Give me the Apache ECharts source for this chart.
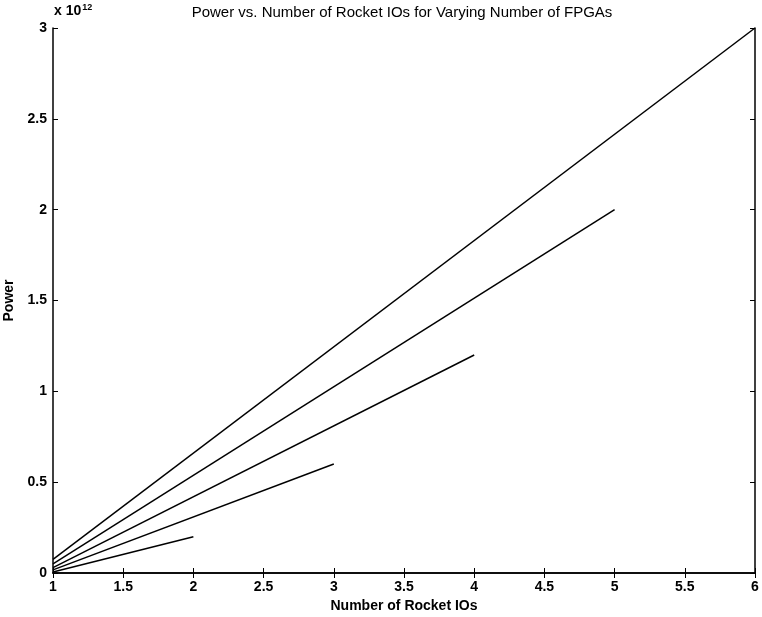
<!DOCTYPE html>
<html><head><meta charset="utf-8">
<script src="https://cdn.jsdelivr.net/npm/echarts@6/dist/echarts.min.js"></script>
<style>html,body{margin:0;padding:0;background:#fff}#c{width:762px;height:617px}</style>
</head><body><div id="c"></div>
<script>
const titleText = "Power vs. Number of Rocket IOs for Varying Number of FPGAs";
const xLabel = "Number of Rocket IOs";
const yLabel = "Power";
const exponentLabel = "12";
// each series: [x, power (x10^12)]
const fpga2 = [[1, 0.005], [2, 0.2]];
const fpga3 = [[1, 0.017], [3, 0.6]];
const fpga4 = [[1, 0.03], [4, 1.2]];
const fpga5 = [[1, 0.05], [5, 2.0]];
const fpga6 = [[1, 0.075], [6, 3.0]];
const seriesList = [fpga2, fpga3, fpga4, fpga5, fpga6];

const font = "'Liberation Sans', Arial, sans-serif";
const chart = echarts.init(document.getElementById('c'), null, {renderer: 'canvas'});
const axisCommon = {
  axisLine: {show: true, lineStyle: {color: '#000', width: 1.5}},
  axisTick: {show: true, inside: true, length: 5, lineStyle: {color: '#000', width: 1}},
  splitLine: {show: false}
};
const labelStyle = {fontFamily: font, fontSize: 14, color: '#000', fontWeight: 'bold'};
chart.setOption({
  animation: false,
  backgroundColor: '#fff',
  graphic: [{
    type: 'text', x: 402, y: 5,
    style: {
      text: titleText, textAlign: 'center',
      fontFamily: font, fontSize: 15, fill: '#000'
    }
  }, {
    type: 'text', x: 54, y: 3,
    style: {
      text: '{a|x 10}{b|' + exponentLabel + '}',
      rich: {
        a: {fontFamily: font, fontSize: 14, fill: '#000', fontWeight: 'bold'},
        b: {fontFamily: font, fontSize: 9, fill: '#000', fontWeight: 'bold', verticalAlign: 'top', padding: [0, 0, 8, 1]}
      }
    }
  }],
  grid: {left: 53, right: 7, top: 28, bottom: 44, containLabel: false, outerBoundsMode: 'none'},
  xAxis: [
    Object.assign({
      type: 'value', min: 1, max: 6, interval: 0.5, position: 'bottom',
      name: xLabel, nameLocation: 'middle', nameGap: 24,
      nameTextStyle: labelStyle,
      axisLabel: Object.assign({margin: 7}, labelStyle)
    }, axisCommon),
    Object.assign({
      type: 'value', min: 1, max: 6, interval: 0.5, position: 'top',
      axisLabel: {show: false}
    }, axisCommon)
  ],
  yAxis: [
    Object.assign({
      type: 'value', min: 0, max: 3, interval: 0.5, position: 'left',
      name: yLabel, nameLocation: 'middle', nameGap: 34, nameRotate: 90,
      nameTextStyle: labelStyle,
      axisLabel: Object.assign({margin: 6}, labelStyle)
    }, axisCommon),
    Object.assign({
      type: 'value', min: 0, max: 3, interval: 0.5, position: 'right',
      axisLabel: {show: false}
    }, axisCommon)
  ],
  series: seriesList.map(d => ({
    type: 'line', data: d, xAxisIndex: 0, yAxisIndex: 0,
    symbol: 'none', lineStyle: {color: '#000', width: 1.5}
  }))
});
</script></body></html>
